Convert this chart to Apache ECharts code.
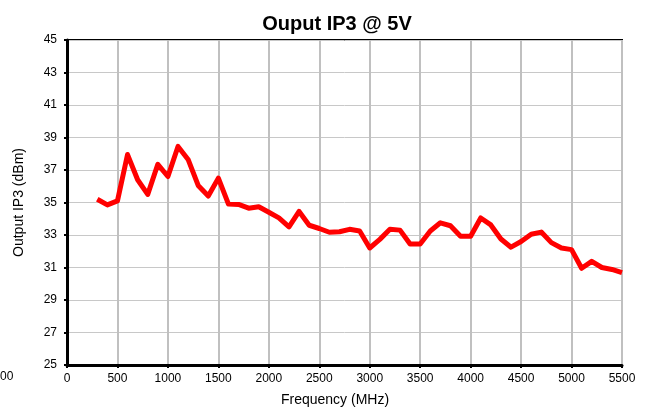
<!DOCTYPE html>
<html>
<head>
<meta charset="utf-8">
<script src="https://cdn.jsdelivr.net/npm/echarts@6/dist/echarts.min.js"></script>
<style>
  html, body { margin: 0; padding: 0; background: #fff; }
  #chart { width: 648px; height: 413px; }
</style>
</head>
<body>
<div id="chart"></div>
<script>
// frequency points (MHz) and measured output IP3 (dBm)
const freqs = [300, 400, 500, 600, 700, 800, 900, 1000, 1100, 1200, 1300, 1400, 1500, 1600, 1700, 1800, 1900, 2000,
  2100, 2200, 2300, 2400, 2500, 2600, 2700, 2800, 2900, 3000, 3100, 3200, 3300, 3400, 3500, 3600, 3700, 3800,
  3900, 4000, 4100, 4200, 4300, 4400, 4500, 4600, 4700, 4800, 4900, 5000, 5100, 5200, 5300, 5400, 5500];
const ip3 = [35.2, 34.85, 35.1, 37.95, 36.4, 35.5, 37.35, 36.6, 38.45, 37.65, 36.05, 35.4, 36.5, 34.9, 34.88, 34.65, 34.74, 34.4,
  34.05, 33.5, 34.45, 33.6, 33.4, 33.17, 33.2, 33.35, 33.25, 32.2, 32.73, 33.35, 33.3, 32.45, 32.45, 33.25, 33.75, 33.57,
  32.92, 32.92, 34.05, 33.62, 32.75, 32.25, 32.6, 33.05, 33.18, 32.53, 32.2, 32.1, 30.95, 31.38, 31.0, 30.88, 30.68];

const chart = echarts.init(document.getElementById('chart'));
const font = 'Liberation Sans, Arial, sans-serif';

const option = {
  animation: false,
  title: {
    text: 'Ouput IP3 @ 5V',
    left: 332, top: 9, textAlign: 'center',
    textStyle: { fontFamily: font, fontSize: 20, fontWeight: 'bold', color: '#000' }
  },
  grid: {
    left: 67, top: 40, width: 555, height: 325,
    show: true, borderColor: '#000', borderWidth: 2, backgroundColor: 'transparent'
  },
  xAxis: {
    type: 'value', min: 0, max: 5500, interval: 500,
    name: 'Frequency (MHz)', nameLocation: 'middle', nameGap: 28,
    nameTextStyle: { fontFamily: font, fontSize: 14, color: '#000', padding: [0, 19, 0, 0] },
    axisLine: { lineStyle: { color: '#000', width: 3 } },
    axisTick: { show: true, length: 3, lineStyle: { color: '#000', width: 2 } },
    axisLabel: { fontFamily: font, fontSize: 12, color: '#000', margin: 8, formatter: v => String(v) },
    splitLine: { show: true, lineStyle: { color: '#c0c0c0', width: 2 } }
  },
  yAxis: {
    type: 'value', min: 25, max: 45, interval: 2,
    name: 'Output IP3 (dBm)', nameLocation: 'middle', nameGap: 41,
    nameTextStyle: { fontFamily: font, fontSize: 14, color: '#000' },
    axisLine: { show: true, lineStyle: { color: '#000', width: 3 } },
    axisTick: { show: true, length: 3, lineStyle: { color: '#000', width: 2 } },
    axisLabel: { fontFamily: font, fontSize: 12, color: '#000', margin: 10 },
    splitLine: { show: true, lineStyle: { color: '#c8c8c8', width: 1 } }
  },
  series: [{
    type: 'line',
    data: freqs.map((f, i) => [f, ip3[i]]),
    showSymbol: false,
    lineStyle: { color: '#ff0000', width: 5, join: 'round' },
    itemStyle: { color: '#ff0000' },
    z: 5
  }],
  graphic: [{
    type: 'text', left: 0, top: 371,
    style: { text: '00', font: '12px ' + font, fill: '#000' }
  }]
};

chart.setOption(option);
</script>
</body>
</html>
